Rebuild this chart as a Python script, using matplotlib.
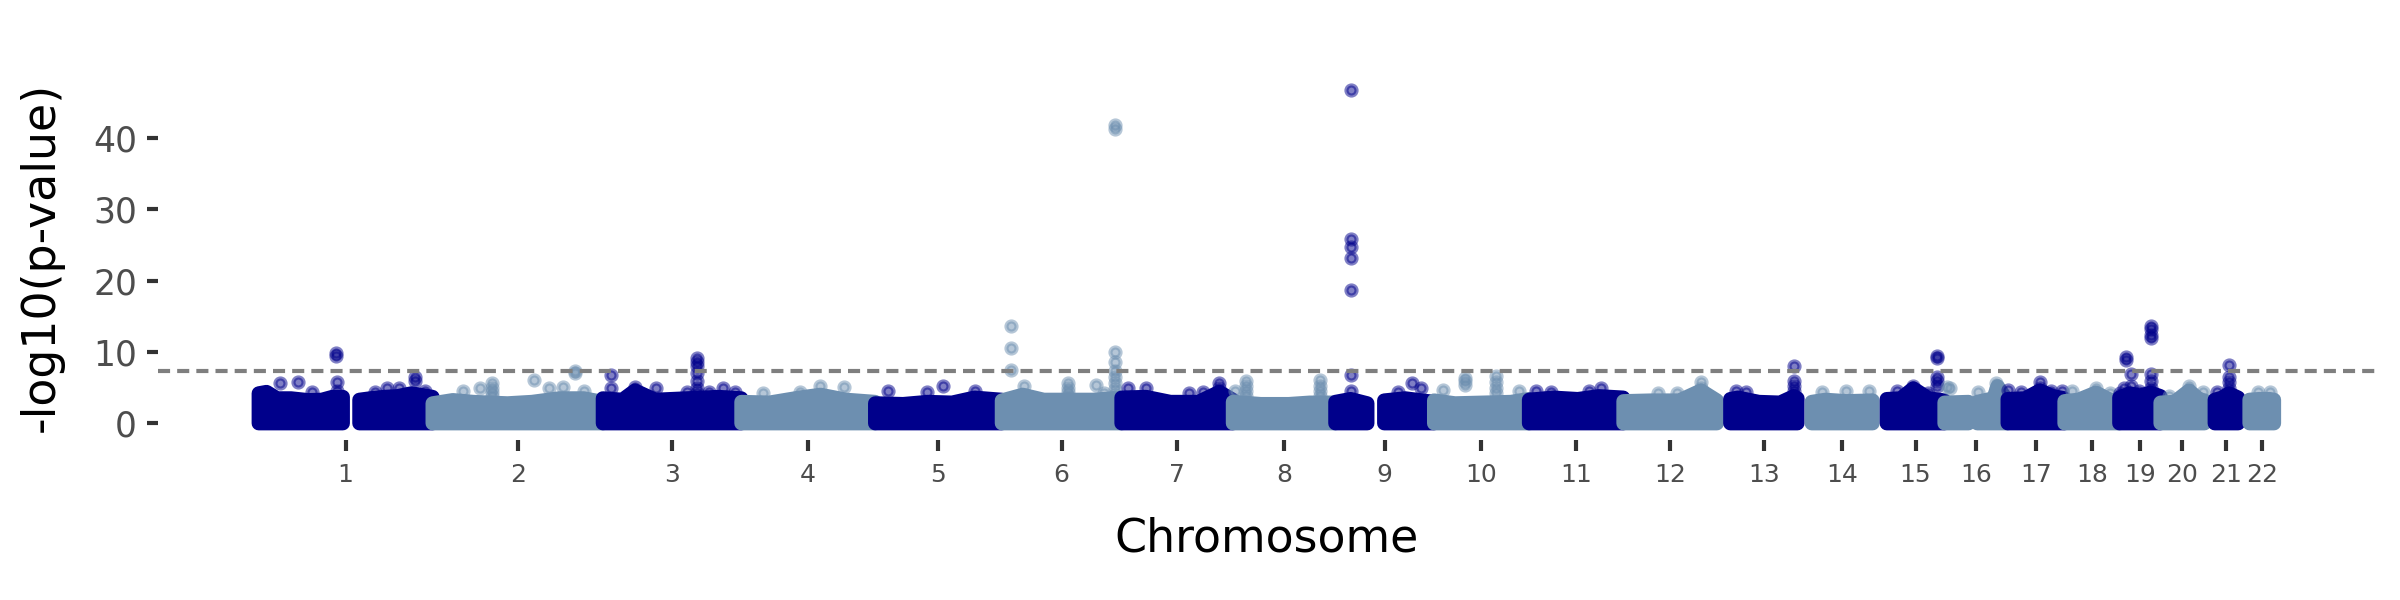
import numpy as np
import matplotlib.pyplot as plt

# chromosome layout (Mb, hg19 lengths) and the span covered by markers
chrom_names = [str(i) for i in range(1, 23)]
chrom_len = [249.25, 243.2, 198.0, 191.15, 180.9, 171.1, 159.1, 146.35, 141.2, 135.5, 135.0,
             133.85, 115.15, 107.35, 102.5, 90.35, 81.2, 78.1, 59.1, 63.0, 48.1, 51.3]
chrom_segments = [
    [(0.75, 121.0), (144.6, 249.2)], [(0.01, 243.1)], [(0.06, 197.9)], [(0.07, 191.0)],
    [(0.01, 180.8)], [(0.2, 171.0)], [(0.04, 159.1)], [(0.16, 146.3)],
    [(0.2, 46.0), (70.0, 141.1)], [(0.1, 135.5)], [(0.2, 134.9)], [(0.2, 133.8)],
    [(19.0, 115.1)], [(20.2, 107.3)], [(20.1, 102.4)], [(0.1, 34.5), (47.0, 90.2)],
    [(0.01, 81.1)], [(0.01, 78.0)], [(0.25, 59.1)], [(0.06, 62.9)], [(14.5, 48.1)],
    [(16.1, 51.2)],
]
# upper outline of the dense cloud of non-significant SNPs (position Mb, -log10 p)
env_pos = [
    [0.75, 12, 27, 47, 71, 91, 106, 121.0, 144.6, 160, 180, 199, 219, 249.2],
    [0.01, 29, 58, 107, 142, 181, 216, 243.1],
    [0.06, 28, 46, 75, 120, 165, 197.9],
    [0.07, 40, 83, 113, 150, 191.0],
    [0.01, 40, 75, 110, 142, 180.8],
    [0.2, 30, 60, 95, 130, 160, 171.0],
    [0.04, 35, 70, 110, 140, 159.1],
    [0.16, 40, 80, 110, 146.3],
    [0.2, 22, 46.0, 70.0, 100, 141.1],
    [0.1, 30, 70, 110, 135.5],
    [0.2, 35, 70, 100, 134.9],
    [0.2, 40, 80, 111, 133.8],
    [19.0, 30, 60, 90, 110, 115.1],
    [20.2, 40, 70, 107.3],
    [20.1, 40, 58, 80, 102.4],
    [0.1, 34.5, 47.0, 70, 76, 90.2],
    [0.01, 25, 46, 65, 81.1],
    [0.01, 20, 45, 65, 78.0],
    [0.25, 15, 30, 45, 59.1],
    [0.06, 20, 41, 55, 62.9],
    [14.5, 25, 35, 48.1],
    [16.1, 30, 45, 51.2],
]
env_val = [
    [4.2, 4.4, 3.5, 3.5, 3.25, 3.3, 3.7, 3.7, 3.3, 3.5, 3.7, 3.8, 4.2, 3.7],
    [2.8, 3.25, 3.0, 2.8, 3.0, 3.5, 3.5, 3.0],
    [3.5, 3.3, 4.6, 3.3, 3.5, 3.7, 3.5],
    [3.0, 2.9, 3.6, 4.0, 3.3, 3.0],
    [2.8, 2.7, 3.0, 2.9, 3.6, 3.3],
    [3.2, 4.0, 3.3, 3.3, 3.3, 3.5, 3.4],
    [3.6, 3.7, 3.0, 3.0, 4.4, 3.3],
    [3.0, 2.7, 2.7, 2.9, 2.9],
    [3.0, 3.4, 2.8, 3.2, 3.5, 3.0],
    [3.2, 2.8, 2.9, 3.0, 3.4],
    [3.3, 3.6, 3.4, 3.8, 3.6],
    [3.1, 3.2, 3.2, 4.6, 3.2],
    [3.4, 3.6, 3.0, 2.9, 3.8, 3.5],
    [3.0, 3.3, 3.1, 3.2],
    [3.4, 3.5, 4.9, 3.5, 3.2],
    [2.9, 3.0, 3.0, 3.5, 5.2, 3.2],
    [3.4, 3.5, 4.6, 3.8, 3.5],
    [3.1, 3.3, 4.3, 3.3, 3.0],
    [3.6, 4.2, 3.9, 4.3, 3.8],
    [2.9, 3.0, 4.6, 3.4, 3.2],
    [3.3, 3.6, 4.2, 3.6],
    [3.3, 3.4, 3.4, 3.3],
]

# SNPs standing out above the cloud: position in chromosome (Mb) and -log10(p)
hit_pos = [
    [31.0, 57.6, 76.3, 110.7, 110.9, 113.1, 113.1, 167.3, 184.4, 201.6, 223.9, 223.9, 238.7],
    [43.4, 68.0, 85.3, 85.3, 85.3, 85.3, 144.3, 166.5, 186.2, 203.3, 203.3, 215.8],
    [12.0, 12.0, 46.3, 75.8, 119.9, 134.8, 134.8, 134.8, 134.8, 134.8, 134.8, 134.8, 152.0, 171.7, 189.1],
    [30.3, 83.5, 113.0, 147.4],
    [17.8, 74.3, 96.5, 142.8],
    [12.9, 12.9, 12.9, 31.2, 94.8, 94.8, 94.8, 94.8, 134.5, 146.2,
     162.4, 162.4, 162.4, 162.4, 162.4, 162.4, 162.4, 162.4, 162.4],
    [10.1, 34.7, 96.3, 116.0, 139.4, 139.4, 139.4],
    [3.2, 18.3, 18.3, 18.3, 18.3, 124.6, 124.6, 124.6, 124.6],
    [22.1, 22.1, 22.1, 22.1, 22.1, 22.1, 22.1, 89.7, 109.7, 122.0],
    [12.8, 44.6, 44.6, 44.6, 88.9, 88.9, 88.9, 88.9, 120.8],
    [10.1, 32.1, 86.3, 103.5],
    [49.7, 76.6, 111.1, 111.1, 111.1],
    [26.5, 41.3, 110.1, 110.1, 110.1, 110.1, 110.1],
    [34.4, 68.8, 102.3],
    [34.3, 57.9, 57.9, 57.9, 78.6, 92.3, 92.3, 92.3, 92.3, 92.3],
    [3.1, 8.1, 47.4, 74.4, 74.4, 74.4],
    [0.5, 18.5, 45.6, 45.6, 62.7, 77.3],
    [11.1, 45.5, 65.3],
    [1.8, 6.6, 9.3, 9.3, 16.6, 16.6, 28.9, 45.2, 45.2, 45.2, 45.2, 45.2, 45.2, 45.2],
    [11.8, 41.2, 41.2, 41.2, 60.9],
    [17.5, 34.7, 34.7, 34.7, 34.7],
    [28.4, 45.5],
]
hit_val = [
    [5.6, 5.8, 4.4, 9.9, 9.4, 5.8, 4.6, 4.4, 4.9, 4.9, 6.5, 6.0, 4.6],
    [4.6, 4.9, 3.8, 4.4, 5.0, 5.6, 6.1, 4.9, 5.1, 7.4, 7.1, 4.6],
    [6.8, 4.9, 5.1, 4.9, 4.4, 9.1, 8.6, 8.0, 7.0, 6.0, 5.0, 4.2, 4.4, 4.9, 4.4],
    [4.2, 4.4, 5.3, 5.1],
    [4.6, 4.4, 5.3, 4.6],
    [13.7, 10.6, 7.5, 5.3, 5.6, 5.0, 4.4, 3.8, 5.4, 4.3,
     41.8, 41.3, 10.0, 8.6, 7.3, 6.5, 5.6, 4.8, 4.0],
    [5.0, 4.9, 4.3, 4.4, 5.6, 4.9, 4.2],
    [4.6, 6.0, 5.3, 4.5, 3.8, 6.1, 5.3, 4.5, 3.8],
    [46.8, 25.9, 24.7, 23.2, 18.7, 6.8, 4.6, 4.4, 5.6, 5.0],
    [4.7, 6.4, 5.9, 5.4, 6.6, 5.8, 5.0, 4.2, 4.6],
    [4.5, 4.4, 4.5, 4.9],
    [4.3, 4.2, 5.8, 5.0, 4.3],
    [4.5, 4.4, 8.0, 6.0, 5.2, 4.5, 3.8],
    [4.4, 4.5, 4.5],
    [4.6, 5.2, 4.5, 3.8, 4.2, 9.5, 9.1, 6.5, 6.0, 5.3],
    [5.1, 5.0, 4.4, 5.6, 4.9, 4.2],
    [4.7, 4.4, 5.8, 5.0, 4.6, 4.5],
    [4.6, 5.0, 4.2],
    [4.2, 4.9, 9.3, 8.9, 6.9, 5.3, 4.6, 13.6, 13.2, 12.4, 12.0, 6.9, 6.0, 5.0],
    [3.8, 5.3, 4.6, 3.9, 4.4],
    [4.4, 8.2, 6.5, 5.8, 5.0],
    [4.4, 4.4],
]
genome_wide = -np.log10(5e-8)

colors = ['#00008B', '#6D8FB0']

fig = plt.figure(figsize=(8, 2), dpi=300)
ax = fig.add_axes([0.0658, 0.2667, 0.9237, 0.6117])

offsets = np.concatenate([[0], np.cumsum(chrom_len)[:-1]])
centers = []
for i in range(len(chrom_names)):
    col = colors[i % 2]
    off = offsets[i]
    segs = chrom_segments[i]
    ep = np.array(env_pos[i])
    ev = np.array(env_val[i])
    for a, b in segs:
        keep = (ep >= a) & (ep <= b)
        xs = np.concatenate([[a], ep[keep], [b]]) + off
        ys = np.concatenate([[0], ev[keep], [0]])
        ax.fill(xs, ys, fc=col, ec=col, lw=3.4, joinstyle='round')
    ax.scatter(off + np.array(hit_pos[i]), hit_val[i], s=5.8, color=col,
               alpha=0.5, edgecolors=col, linewidths=1.0)
    centers.append(off + (segs[0][0] + segs[-1][1]) / 2)

ax.axhline(genome_wide, color='#7F7F7F', lw=1.0, ls=(0, (2.9, 1.7)), zorder=3)

ax.margins(x=0.05, y=0.05)
for s in ax.spines.values():
    s.set_visible(False)

ax.set_yticks([0, 10, 20, 30, 40])
ax.set_xticks(centers)
ax.set_xticklabels(chrom_names)
ax.tick_params(axis='y', length=2.6, width=1, color='#333333', labelcolor='#4D4D4D',
               labelsize=8.3, pad=2.4)
ax.tick_params(axis='x', length=2.6, width=1, color='#333333', labelcolor='#4D4D4D',
               labelsize=6, pad=2.9)
ax.set_xlabel('Chromosome', fontsize=11, labelpad=7)
ax.set_ylabel('-log10(p-value)', fontsize=11, labelpad=7)

fig.savefig('out.png', dpi=300)
